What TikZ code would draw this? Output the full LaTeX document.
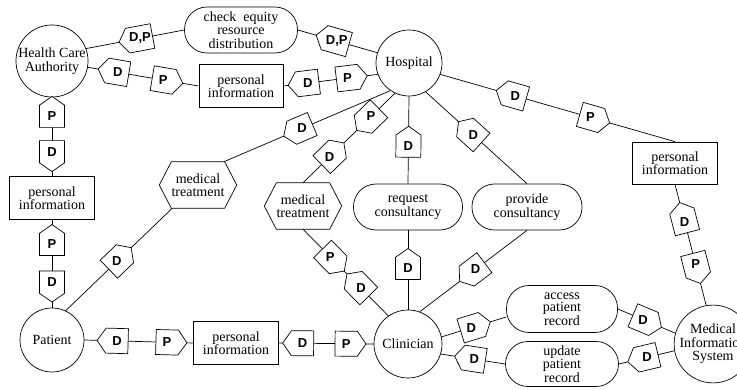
\documentclass[tikz,border=0pt]{standalone}
\usepackage{fontspec}
\setmainfont{Liberation Serif}
\setsansfont{Liberation Sans}
\usetikzlibrary{shapes.symbols,calc}
\begin{document}
\begin{tikzpicture}[x=1pt,y=-1pt,
  every node/.style={inner sep=0pt},
  txt/.style={align=center,font=\fontsize{14}{13.5}\selectfont},
  ent/.style={circle,draw,line width=.7pt,txt},
  box/.style={rectangle,draw,line width=.7pt,txt,minimum width=85pt,minimum height=43pt},
  pill/.style={rectangle,rounded corners=22.5pt,draw,line width=.7pt,txt,minimum width=110pt,minimum height=46pt},
  hexbase/.style={rectangle,txt,minimum width=77pt,minimum height=46pt},
  tag/.style={signal,draw,fill=white,line width=.7pt,sloped,allow upside down,
    minimum width=31pt,minimum height=25pt,signal pointer angle=110,inner sep=0pt},
  tl/.style={font=\fontsize{13}{13}\selectfont\sffamily\bfseries},
  conn/.style={line width=.7pt}
]
\path[use as bounding box,fill=white] (0,0) rectangle (737,390);

% entities
\node[ent,minimum size=72pt] (hca) at (52,61) {Health Care\\Authority};
\node[ent,minimum size=66pt] (hosp) at (409,63) {Hospital};
\node[ent,minimum size=64pt] (pat) at (52,340) {Patient};
\node[ent,minimum size=68pt] (clin) at (408,344) {Clinician};
\node[ent,minimum size=74pt] (mis) at (713,344) {Medical\\Information\\System};

% boxes
\node[box,minimum width=84pt] (pit) at (241,86) {personal\\information};
\node[box] (pil) at (52,198) {personal\\information};
\node[box,minimum height=42pt] (pir) at (675,163) {personal\\information};
\node[box] (pib) at (236,343) {personal\\information};

% pills
\node[pill,minimum width=113pt] (chk) at (241,30) {check~ equity\\resource\\distribution};
\node[pill,minimum width=109pt] (req) at (408,207) {request\\consultancy};
\node[pill] (prov) at (527,207) {provide\\consultancy};
\node[pill,minimum width=111pt,minimum height=47pt,font=\fontsize{14}{12.6}\selectfont] (acc) at (562,309) {access\\patient\\record};
\node[pill,minimum width=113pt,minimum height=45pt] (upd) at (562,364) {update\\patient\\record};

% hexagons
\node[hexbase] (mt1) at (198,185) {medical\\treatment};
\node[hexbase] (mt2) at (303,206) {medical\\treatment};
\draw[line width=.7pt] (mt1.west) -- ([xshift=12pt]mt1.north west) -- ([xshift=-12pt]mt1.north east)
  -- (mt1.east) -- ([xshift=-12pt]mt1.south east) -- ([xshift=12pt]mt1.south west) -- cycle;
\draw[line width=.7pt] (mt2.west) -- ([xshift=12pt]mt2.north west) -- ([xshift=-12pt]mt2.north east)
  -- (mt2.east) -- ([xshift=-12pt]mt2.south east) -- ([xshift=12pt]mt2.south west) -- cycle;
\coordinate (mt1ne) at ([xshift=-13pt]mt1.north east);
\coordinate (mt1sw) at ([xshift=13pt]mt1.south west);

% connectors with tags
\draw[conn] (hca.20) -- node[tag,pos=.55,signal to=west,minimum width=34pt] (a1) {} node[tl,pos=.55] (a1t) {D,P} (chk.west);
\draw[conn] (chk.east) -- node[tag,pos=.49,signal to=west,minimum width=34pt] (a2) {} node[tl,pos=.49] (a2t) {D,P} (hosp.162);
\draw[conn] (hca.-10) -- node[tag,pos=.27,signal to=west] (a3) {} node[tl,pos=.27] (a3t) {D}
  node[tag,pos=.68,signal to=east] (a4) {} node[tl,pos=.68] (a4t) {P} (pit.west);
\draw[conn] (pit.east) -- node[tag,pos=.26,signal to=west] (a5) {} node[tl,pos=.26] (a5t) {D}
  node[tag,pos=.68,signal to=east] (a6) {} node[tl,pos=.68] (a6t) {P} (hosp.200);
\draw[conn] (hca.south) -- node[tag,pos=.24,signal to=west] (a7) {} node[tl,pos=.24] (a7t) {P}
  node[tag,pos=.69,signal to=east] (a8) {} node[tl,pos=.69] (a8t) {D} (pil.north);
\draw[conn] (pil.south) -- node[tag,pos=.28,signal to=west] (a9) {} node[tl,pos=.28] (a9t) {P}
  node[tag,pos=.71,signal to=east] (a10) {} node[tl,pos=.71] (a10t) {D} (pat.north);
\draw[conn] (hosp.236) -- node[tag,pos=.53,signal to=east] (a11) {} node[tl,pos=.53] (a11t) {D} (mt1ne);
\draw[conn] (mt1sw) -- node[tag,pos=.52,signal to=west] (a12) {} node[tl,pos=.52] (a12t) {D} (pat.65);
\draw[conn] (hosp.245) -- node[tag,pos=.26,signal to=east] (a13) {} node[tl,pos=.26] (a13t) {P}
  node[tag,pos=.71,signal to=west] (a14) {} node[tl,pos=.71] (a14t) {D} (mt2.north);
\draw[conn] (hosp.south) -- node[tag,pos=.57,signal to=west] (a15) {} node[tl,pos=.57] (a15t) {D} (req.north);
\draw[conn] (hosp.-60) -- node[tag,pos=.47,signal to=west] (a16) {} node[tl,pos=.47] (a16t) {D} (prov.north);
\draw[conn] (hosp.-20) -- node[tag,pos=.32,signal to=west] (a17) {} node[tl,pos=.32] (a17t) {D}
  node[tag,pos=.64,signal to=east] (a18) {} node[tl,pos=.64] (a18t) {P} (pir.north);
\draw[conn] (pir.south) -- node[tag,pos=.31,signal to=west] (a19) {} node[tl,pos=.31] (a19t) {D}
  node[tag,pos=.66,signal to=east] (a20) {} node[tl,pos=.66] (a20t) {P} (mis.100);
\draw[conn] (mt2.south) -- node[tag,pos=.32,signal to=east] (a21) {} node[tl,pos=.32] (a21t) {P}
  node[tag,pos=.68,signal to=west] (a22) {} node[tl,pos=.68] (a22t) {D} (clin.125);
\draw[conn] (req.south) -- node[tag,pos=.48,signal to=west] (a23) {} node[tl,pos=.48] (a23t) {D} (clin.north);
\draw[conn] (clin.70) -- node[tag,pos=.52,signal to=west] (a24) {} node[tl,pos=.52] (a24t) {D} (prov.south);
\draw[conn] (clin.12) -- node[tag,pos=.46,signal to=east] (a25) {} node[tl,pos=.46] (a25t) {D} ($(acc.west)+(0,8)$);
\draw[conn] (clin.-17) -- node[tag,pos=.52,signal to=west] (a26) {} node[tl,pos=.52] (a26t) {D} (upd.west);
\draw[conn] (acc.east) -- node[tag,pos=.44,signal to=east] (a27) {} node[tl,pos=.44] (a27t) {D} (mis.164);
\draw[conn] (upd.east) -- node[tag,pos=.51,signal to=west] (a28) {} node[tl,pos=.51] (a28t) {D} (mis.190);
\draw[conn] (pat.east) -- node[tag,pos=.30,signal to=west] (a29) {} node[tl,pos=.30] (a29t) {D}
  node[tag,pos=.76,signal to=east] (a30) {} node[tl,pos=.76] (a30t) {P} (pib.west);
\draw[conn] (pib.east) -- node[tag,pos=.25,signal to=west] (a31) {} node[tl,pos=.25] (a31t) {D}
  node[tag,pos=.71,signal to=east] (a32) {} node[tl,pos=.71] (a32t) {P} (clin.west);
\end{tikzpicture}
\end{document}
